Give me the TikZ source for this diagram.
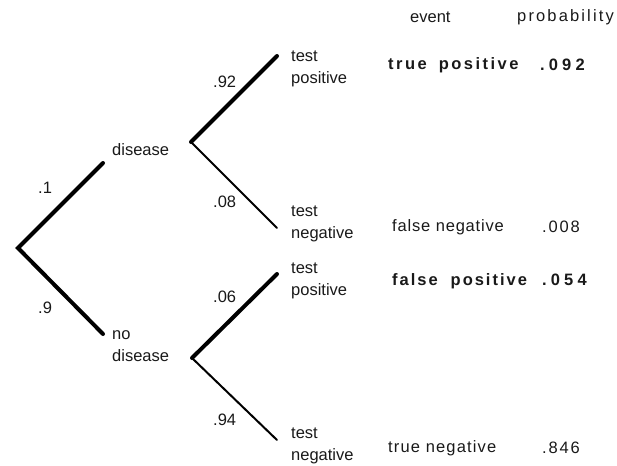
\documentclass[tikz,border=0pt]{standalone}
\usepackage{fontspec}
\setmainfont{Liberation Sans}
\begin{document}
\begin{tikzpicture}[x=1pt,y=-1pt,
  lbl/.style={inner sep=0pt,anchor=west,align=left,text=black!90,
    font=\fontsize{16.5}{22}\selectfont},
  ev/.style={inner sep=0pt,anchor=west,text=black!90,
    font=\fontsize{16.5}{22}\selectfont},
  thickbr/.style={line width=4pt,line cap=round},
  thinbr/.style={line width=2pt,line cap=round}]
\useasboundingbox (0,0) rectangle (617,465);
% branch points
\coordinate (root) at (18,248);
\coordinate (dE) at (103,163);
\coordinate (ndE) at (103,334);
\coordinate (dS) at (191,142);
\coordinate (ndS) at (192,358);
\coordinate (tp1) at (277,56);
\coordinate (tn1) at (277,228);
\coordinate (tp2) at (277,274);
\coordinate (tn2) at (277,440);
% branches
\draw[thickbr] (dE) -- (root) -- (ndE);
\draw[thickbr] (tp1) -- (dS);
\draw[thinbr] (dS) -- (tn1);
\draw[thickbr] (tp2) -- (ndS);
\draw[thinbr] (ndS) -- (tn2);
% node labels
\node[lbl] (dis) at (112,150) {disease};
\node[lbl] (nodis) at (112,346) {no\\disease};
\node[lbl] (t1) at (291,69) {test\\positive};
\node[lbl] (t2) at (291,224) {test\\negative};
\node[lbl] (t3) at (291,281) {test\\positive};
\node[lbl] (t4) at (291,446) {test\\negative};
% probabilities on branches
\node[lbl] (p1) at (38,188) {.1};
\node[lbl] (p9) at (38,308) {.9};
\node[lbl] (p92) at (213,82) {.92};
\node[lbl] (p08) at (213,202) {.08};
\node[lbl] (p06) at (213,297) {.06};
\node[lbl] (p94) at (213,420) {.94};
% headers
\node[ev] (hev) at (410,17) {event};
\node[ev] (hpr) at (517,17) {\addfontfeature{LetterSpace=13}probability};
% events
\node[ev] (e1) at (388,65) {\bfseries\addfontfeature{LetterSpace=15}true\hspace{12pt}positive};
\node[ev] (e2) at (392,227) {\addfontfeature{LetterSpace=5}false negative};
\node[ev] (e3) at (392,281) {\bfseries\addfontfeature{LetterSpace=12}false\hspace{13pt}positive};
\node[ev] (e4) at (388,448) {\addfontfeature{LetterSpace=7}true negative};
% probabilities of events
\node[ev] (v1) at (540,65) {\bfseries\addfontfeature{LetterSpace=25}.092};
\node[ev] (v2) at (542,227) {\addfontfeature{LetterSpace=11}.008};
\node[ev] (v3) at (542,280) {\bfseries\addfontfeature{LetterSpace=25}.054};
\node[ev] (v4) at (542,448) {\addfontfeature{LetterSpace=11}.846};
\end{tikzpicture}
\end{document}
